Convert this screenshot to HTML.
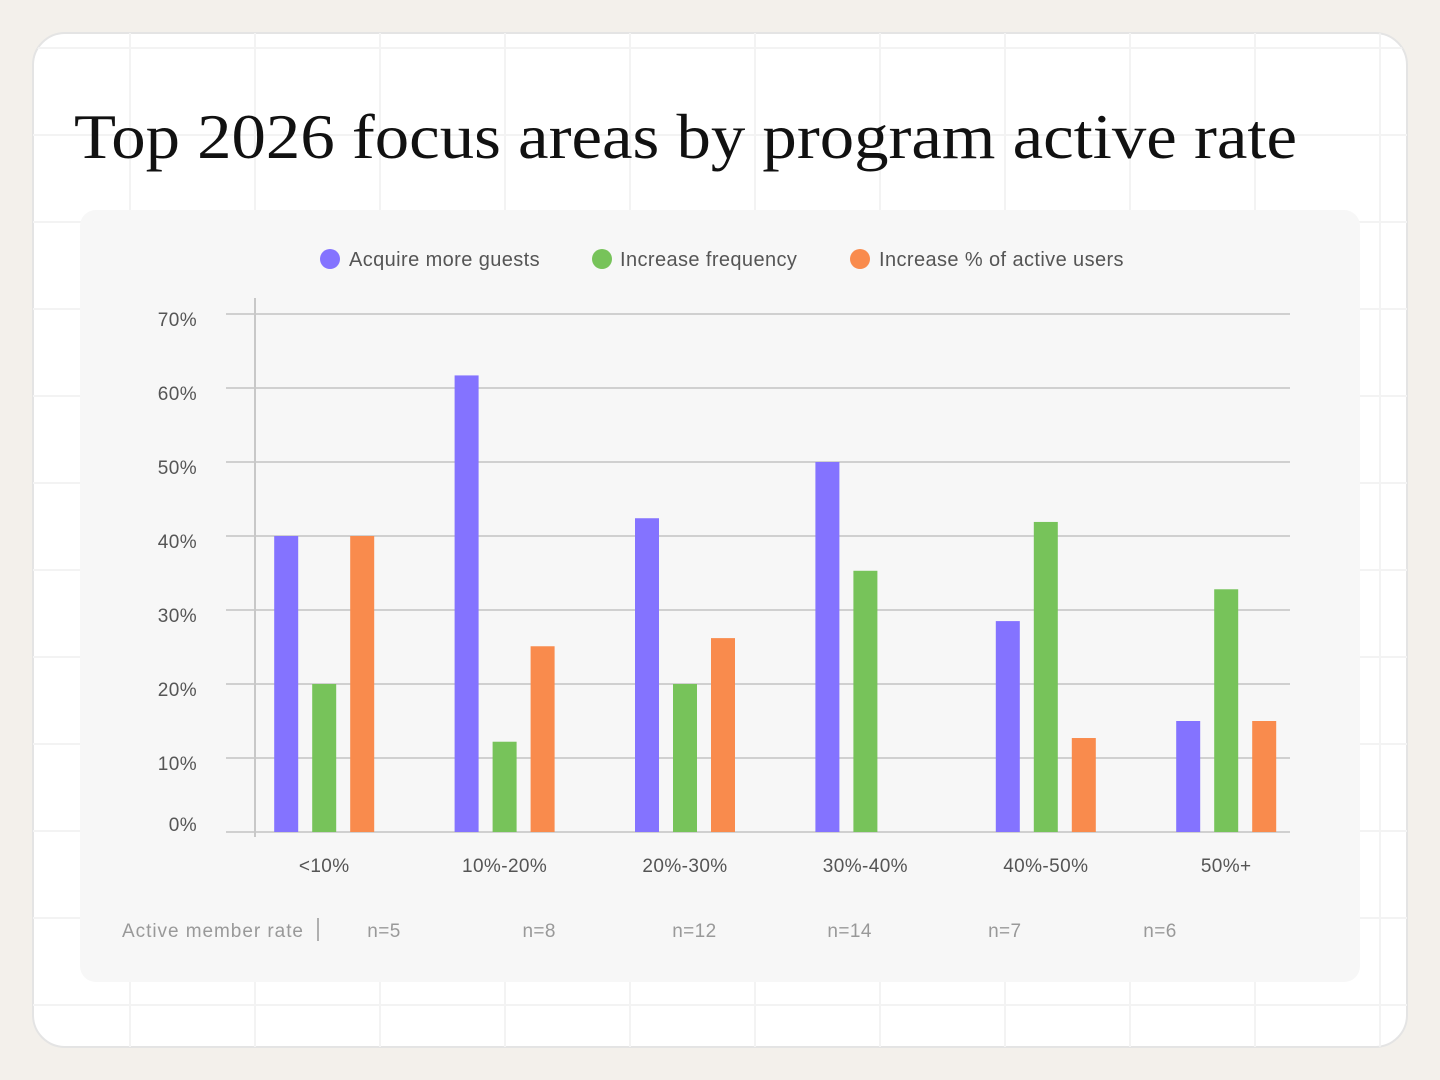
<!DOCTYPE html>
<html><head><meta charset="utf-8"><style>
html,body{margin:0;padding:0;background:#f3f0eb;}
svg{display:block;font-family:"Liberation Sans",sans-serif;}
</style></head><body>
<svg id="chart" width="1440" height="1080" viewBox="0 0 1440 1080">
<rect x="0" y="0" width="1440" height="1080" fill="#f3f0eb"/>
<defs><clipPath id="cardclip"><rect x="33" y="33" width="1374" height="1014" rx="32"/></clipPath></defs>
<rect x="33" y="33" width="1374" height="1014" rx="32" fill="#ffffff" stroke="#e4e4e4" stroke-width="2"/>
<g id="bggrid" clip-path="url(#cardclip)" stroke="#f3f3f3" stroke-width="2"></g>
<text x="74" y="158" font-family="'Liberation Serif',serif" font-size="64" fill="#111" textLength="1223" lengthAdjust="spacingAndGlyphs">Top 2026 focus areas by program active rate</text>
<rect x="80" y="210" width="1280" height="772" rx="16" fill="#f7f7f7"/>
<g font-size="20" fill="#555" letter-spacing="0.4">
<g><circle cx="330" cy="259" r="10" fill="#8473ff"/><text x="349" y="266">Acquire more guests</text></g>
<g><circle cx="602" cy="259" r="10" fill="#77c35a"/><text x="620" y="266">Increase frequency</text></g>
<g><circle cx="860" cy="259" r="10" fill="#f98b4d"/><text x="879" y="266">Increase % of active users</text></g>
</g>
<g id="plot"></g>
</svg>
<script>
const categories = ["<10%","10%-20%","20%-30%","30%-40%","40%-50%","50%+"];
const acquireValues = [40, 61.7, 42.4, 50, 28.5, 15];
const frequencyValues = [20, 12.2, 20, 35.3, 41.9, 32.8];
const activeUsersValues = [40, 25.1, 26.2, 0, 12.7, 15];
const sampleSizes = ["n=5","n=8","n=12","n=14","n=7","n=6"];
const yTicks = [0,10,20,30,40,50,60,70];
const yTickLabels = ["0%","10%","20%","30%","40%","50%","60%","70%"];

const NS = "http://www.w3.org/2000/svg";
function mk(tag, attrs, parent){const e=document.createElementNS(NS,tag);for(const k in attrs)e.setAttribute(k,attrs[k]);parent.appendChild(e);return e;}
const plot=document.getElementById('plot');
const bg=document.getElementById('bggrid');
for(let x=130;x<1410;x+=125){const l=mk('line',{x1:x,y1:33,x2:x,y2:1047},bg);

}
for(let y=48;y<1050;y+=87){const l=mk('line',{x1:33,y1:y,x2:1407,y2:y},bg);

}

const y0=832, pxPer=7.4;
function yScale(v){return y0 - v*pxPer;}
const bandStart=234, step=180.4;
function xCenter(i){return bandStart + step*(i+0.5);}

yTicks.forEach((t,i)=>{
  const y=yScale(t);
  const g=mk('line',{x1:226,y1:y,x2:1290,y2:y,stroke:'#d0d0d0','stroke-width':2},plot);
  
  
  const tx=mk('text',{x:197,y:(t===0?y-1:y+12),'text-anchor':'end','font-size':19,fill:'#555','letter-spacing':0.4},plot);
  tx.textContent=yTickLabels[i];
  
  
});
const ax=mk('line',{x1:255,y1:298,x2:255,y2:837,stroke:'#c8c8c8','stroke-width':2},plot);



const series=[{v:acquireValues,c:'#8473ff',n:'acquire'},{v:frequencyValues,c:'#77c35a',n:'frequency'},{v:activeUsersValues,c:'#f98b4d',n:'active-users'}];
const bw=24, gap=38;
categories.forEach((cat,i)=>{
  const cx=xCenter(i);
  series.forEach((s,j)=>{
    const v=s.v[i];
    if(v<=0) return;
    const x=cx+(j-1)*gap-bw/2;
    const r=mk('rect',{x:x,y:yScale(v),width:bw,height:y0-yScale(v),fill:s.c},plot);
    
    
  });
  const t=mk('text',{x:cx,y:872,'text-anchor':'middle','font-size':19,fill:'#555','letter-spacing':0.4},plot);
  t.textContent=cat;
  
  
  const n=mk('text',{x:384+i*155.2,y:937,'text-anchor':'middle','font-size':19,fill:'#999','letter-spacing':0.4},plot);
  n.textContent=sampleSizes[i];
  
  
});
const al=mk('text',{x:122,y:937,'font-size':19,fill:'#999',textLength:181,lengthAdjust:'spacing'},plot);
al.textContent='Active member rate';


const sep=mk('line',{x1:318,y1:918,x2:318,y2:941,stroke:'#999','stroke-width':1.5},plot);


</script>
</body></html>
